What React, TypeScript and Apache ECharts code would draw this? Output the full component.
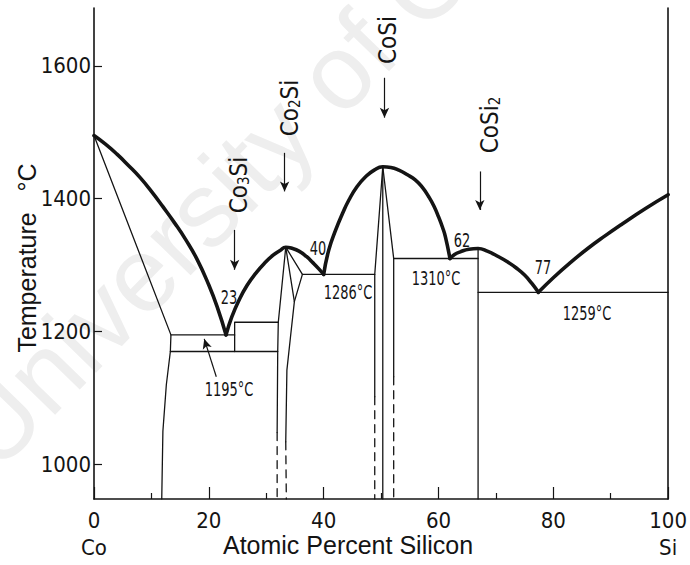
import React, { useEffect, useRef } from "react";
import * as echarts from "echarts";

// Co–Si phase diagram: composition in at.% Si, temperature in °C.

// Liquidus, drawn as a heavy line, one segment per dome.
const liquidusCo = [[0, 1495], [2, 1482], [4, 1467], [6, 1450], [8, 1432], [10, 1411], [12, 1388], [14, 1364], [16, 1338], [18, 1308], [20, 1270], [21.5, 1236], [23, 1195]];
const liquidusCo2Si = [[23, 1195], [24, 1222], [25.3, 1248], [26.7, 1270], [28.2, 1288], [29.7, 1303], [31.2, 1315], [32.4, 1322], [33.4, 1327], [34.6, 1325], [35.7, 1321], [37, 1313], [38.2, 1303], [39.2, 1294], [40, 1286]];
const liquidusCoSi = [[40, 1286], [40.9, 1323], [42.1, 1353], [43.3, 1378], [44.4, 1398], [45.8, 1418], [47.3, 1433], [48.8, 1443], [50.3, 1448], [51.7, 1447], [53.1, 1443], [54.6, 1436], [56, 1428], [57.2, 1417], [58.3, 1403], [59.2, 1389], [60, 1373], [60.7, 1357], [61.2, 1343], [62, 1310]];
const liquidusCoSi2 = [[62, 1310], [62.8, 1316], [63.8, 1320], [65.3, 1324], [66.9, 1325], [68.5, 1321], [70.4, 1313], [72, 1305], [73.5, 1296], [75, 1285], [76.3, 1272], [77.4, 1259]];
const liquidusSi = [[77.4, 1259], [80, 1281], [83, 1304], [86, 1325], [89, 1344], [92, 1362], [96, 1385], [100, 1406]];

// Solidus / solvus and invariant lines (thin).
const coSolvus = [[0, 1495], [13.4, 1195], [13.3, 1170], [12.6, 1120], [12.0, 1050], [11.8, 948]];
const eutectic1195 = [[13.4, 1195], [24.5, 1195]];
const co3SiLower = [[13.3, 1170], [32.0, 1170]];
const co3SiUpper = [[24.5, 1170], [24.5, 1214], [32.1, 1214]];
const co2SiLeft = [[33.4, 1327], [32.1, 1214], [32.0, 1170], [31.9, 1048]];
const co2SiLeftLow = [[31.9, 1048], [31.9, 948]];
const co2SiRight = [[33.4, 1327], [34.9, 1245], [34.2, 1190], [33.6, 1142], [33.4, 1034]];
const co2SiRightLow = [[33.4, 1034], [33.5, 948]];
const co2SiHigh = [[33.4, 1327], [36.3, 1286], [34.9, 1245]];
const eutectic1286 = [[36.3, 1286], [48.9, 1286]];
const coSiLeft = [[50.3, 1448], [48.9, 1286], [48.9, 1102]];
const coSiLeftLow = [[48.9, 1102], [48.9, 948]];
const coSiCenter = [[50.3, 1448], [50.3, 948]];
const coSiRight = [[50.3, 1448], [52.2, 1310], [52.2, 1132]];
const coSiRightLow = [[52.2, 1132], [52.2, 948]];
const eutectic1310 = [[52.2, 1310], [66.9, 1310]];
const coSi2Line = [[66.9, 1325], [66.9, 948]];
const eutectic1259 = [[66.9, 1259], [100, 1259]];

// Compound markers: arrow x position and its start / end temperature.
const compoundArrows = [
  { x: 24.5, from: 1353, to: 1293 },
  { x: 33.2, from: 1469, to: 1411 },
  { x: 50.6, from: 1582, to: 1522 },
  { x: 67.2, from: 1441, to: 1383 },
];
// Pointer from the 1195 °C label to its isotherm.
const pointer1195 = { from: [21.3, 1132], to: [19.2, 1189] };

// Axes.
const tempMin = 948;
const tempMax = 1687;
const tempTicks = [1000, 1200, 1400, 1600];
const xTickLabels: Record<number, string> = { 0: "0\nCo", 100: "100\nSi" };

const INK = "#141414";
const NARROW = "'Liberation Sans Narrow', 'DejaVu Sans Condensed', 'Liberation Sans', sans-serif";
const SANS = "'Liberation Sans', Arial, sans-serif";

function seg(data: number[][], width: number, opts: any = {}) {
  return {
    type: "line",
    data,
    symbol: "none",
    showSymbol: false,
    silent: true,
    animation: false,
    smooth: opts.smooth ?? false,
    lineStyle: { color: INK, width, type: opts.dashed ? [8, 6] : "solid", cap: "round", join: "round" },
    z: opts.z ?? 3,
  };
}

function compoundLabel(x: number, y: number, name: string, sub: string, rest: string) {
  const text = sub ? `{n|${name}}{s|${sub}}{n|${rest}}` : `{n|${name}${rest}}`;
  return {
    type: "text",
    x,
    y,
    rotation: Math.PI / 2,
    silent: true,
    style: {
      text,
      align: "center",
      verticalAlign: "middle",
      rich: {
        n: { fontSize: 24, fontFamily: NARROW, fill: INK, lineHeight: 28, verticalAlign: "bottom" },
        s: { fontSize: 15, fontFamily: NARROW, fill: INK, lineHeight: 16, verticalAlign: "bottom" },
      },
    },
  };
}

function note(x: number, y: number, text: string) {
  return {
    type: "text",
    x,
    y,
    scaleX: 0.8,
    scaleY: 1.1,
    silent: true,
    style: { text, align: "center", verticalAlign: "middle", fontSize: 18, fontFamily: NARROW, fill: INK },
  };
}

export default function App() {
  const ref = useRef<HTMLDivElement>(null);

  useEffect(() => {
    const chart = echarts.init(ref.current!, null, { renderer: "svg" });

    const arrowLines = compoundArrows.map((a) => [
      { coord: [a.x, a.from] },
      { coord: [a.x, a.to] },
    ]);
    arrowLines.push([{ coord: pointer1195.from }, { coord: pointer1195.to }]);

    const option: any = {
      animation: false,
      backgroundColor: "#ffffff",
      grid: { left: 94, right: 20, top: 8, bottom: 66, containLabel: false },
      xAxis: {
        type: "value",
        min: 0,
        max: 100,
        interval: 20,
        axisLine: { show: true, onZero: false, lineStyle: { color: INK, width: 1.6 } },
        axisTick: { show: true, inside: true, length: 12, lineStyle: { color: INK, width: 1.2 } },
        minorTick: { show: true, splitNumber: 2, length: 6, lineStyle: { color: INK, width: 1.2 } },
        splitLine: { show: false },
        axisLabel: {
          margin: 8,
          fontSize: 22,
          lineHeight: 27,
          fontFamily: NARROW,
          color: INK,
          showMinLabel: true,
          showMaxLabel: true,
          formatter: (v: number) => xTickLabels[v] ?? String(v),
        },
      },
      yAxis: [
        {
          type: "value",
          min: tempMin,
          max: tempMax,
          axisLine: { show: true, onZero: false, lineStyle: { color: INK, width: 1.6 } },
          axisTick: { show: true, inside: true, length: 8, customValues: tempTicks, lineStyle: { color: INK, width: 1.2 } },
          axisLabel: {
            margin: 3,
            fontSize: 22,
            fontFamily: NARROW,
            color: INK,
            customValues: tempTicks,
            formatter: (v: number) => String(v),
          },
          splitLine: { show: false },
        },
        {
          type: "value",
          position: "right",
          min: tempMin,
          max: tempMax,
          axisLine: { show: true, onZero: false, lineStyle: { color: INK, width: 1.6 } },
          axisTick: { show: false },
          axisLabel: { show: false },
          splitLine: { show: false },
        },
      ],
      series: [
        seg(liquidusCo, 3.6, { smooth: 0.5, z: 4 }),
        seg(liquidusCo2Si, 3.6, { smooth: 0.5, z: 4 }),
        seg(liquidusCoSi, 3.6, { smooth: 0.5, z: 4 }),
        seg(liquidusCoSi2, 3.6, { smooth: 0.5, z: 4 }),
        seg(liquidusSi, 3.6, { smooth: 0.5, z: 4 }),
        seg(coSolvus, 1.3),
        seg(eutectic1195, 1.3),
        seg(co3SiLower, 1.3),
        seg(co3SiUpper, 1.3),
        seg(co2SiLeft, 1.3),
        seg(co2SiLeftLow, 1.3, { dashed: true }),
        seg(co2SiRight, 1.3),
        seg(co2SiRightLow, 1.3, { dashed: true }),
        seg(co2SiHigh, 1.3),
        seg(eutectic1286, 1.3),
        seg(coSiLeft, 1.3),
        seg(coSiLeftLow, 1.3, { dashed: true }),
        seg(coSiCenter, 1.3),
        seg(coSiRight, 1.3),
        seg(coSiRightLow, 1.3, { dashed: true }),
        seg(eutectic1310, 1.3),
        seg(coSi2Line, 1.3),
        seg(eutectic1259, 1.3),
        {
          type: "line",
          data: [],
          silent: true,
          markLine: {
            silent: true,
            symbol: ["none", "arrow"],
            symbolSize: [7, 10],
            label: { show: false },
            lineStyle: { color: INK, width: 1.2, type: "solid" },
            data: arrowLines,
          },
        },
      ],
      graphic: [
        {
          type: "text",
          x: 8,
          y: 486,
          rotation: 0.8,
          z: -10,
          silent: true,
          style: { text: "University of C", fontSize: 106, fontFamily: SANS, fill: "#eeeeee", align: "left", verticalAlign: "bottom" },
        },
        compoundLabel(237, 185, "Co", "3", "Si"),
        compoundLabel(288, 108, "Co", "2", "Si"),
        compoundLabel(386, 40, "Co", "", "Si"),
        compoundLabel(488, 125, "CoSi", "2", ""),
        note(229, 297, "23"),
        note(318, 248, "40"),
        note(462, 240, "62"),
        note(543, 267, "77"),
        note(229, 389, "1195°C"),
        note(348, 292, "1286°C"),
        note(436, 278, "1310°C"),
        note(587, 313, "1259°C"),
        {
          type: "text",
          x: 348,
          y: 545,
          silent: true,
          style: { text: "Atomic Percent Silicon", align: "center", verticalAlign: "middle", fontSize: 25, fontFamily: SANS, fill: INK },
        },
        {
          type: "text",
          x: 27,
          y: 258,
          rotation: Math.PI / 2,
          silent: true,
          style: { text: "Temperature   °C", align: "center", verticalAlign: "middle", fontSize: 25, fontFamily: SANS, fill: INK },
        },
      ],
    };

    chart.setOption(option);
    return () => chart.dispose();
  }, []);

  return (
    <div
      ref={ref}
      style={{ position: "fixed", left: 0, top: 0, width: 690, height: 565, background: "#ffffff" }}
    />
  );
}
